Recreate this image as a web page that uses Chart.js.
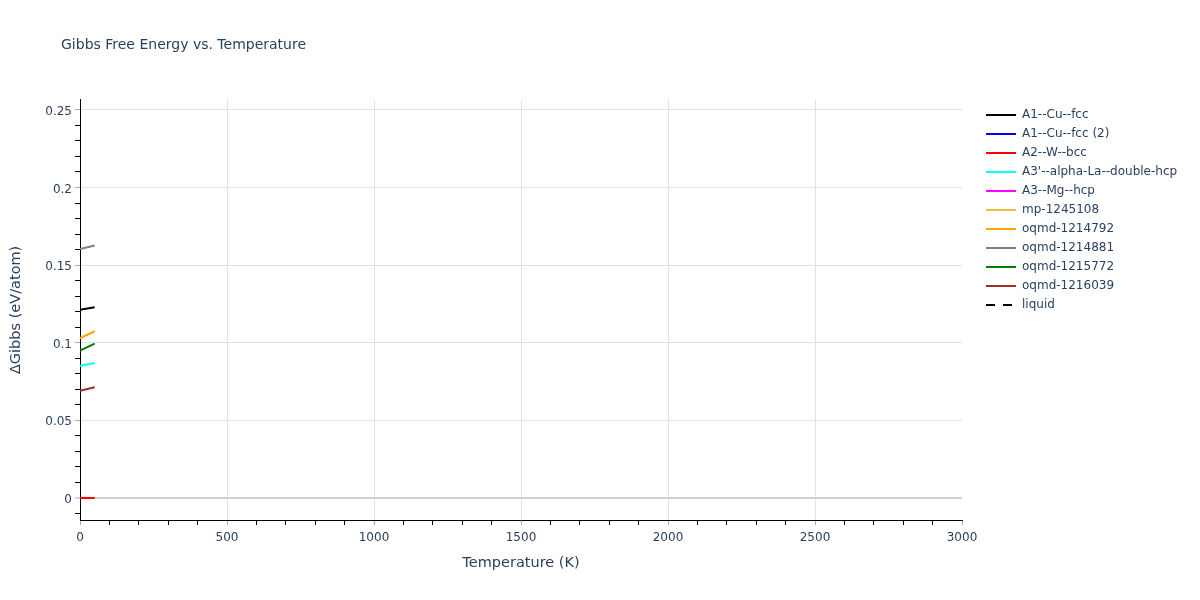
<!DOCTYPE html>
<html lang="en">
<head>
    <meta charset="UTF-8">
    <title>Gibbs Free Energy vs. Temperature</title>
    <script src="https://cdn.jsdelivr.net/npm/chart.js"></script>
    <style>
        body { margin: 0; background: #fff; }
        #wrap { width: 1200px; height: 600px; }
    </style>
</head>
<body>
<div id="wrap">
    <canvas id="gibbs"></canvas>
</div>

<script>
    // temperatures (K) at which each phase was sampled
    const temps = [0, 50];

    const phaseNames = [
        'A1--Cu--fcc', 'A1--Cu--fcc (2)', 'A2--W--bcc', "A3'--alpha-La--double-hcp",
        'A3--Mg--hcp', 'mp-1245108', 'oqmd-1214792', 'oqmd-1214881',
        'oqmd-1215772', 'oqmd-1216039', 'liquid'
    ];
    const phaseColors = [
        '#000000', '#0000ff', '#ff0000', '#00ffff',
        '#ff00ff', '#ecc033', '#ffa500', '#808080',
        '#008000', '#a52a2a', '#000000'
    ];

    // ΔGibbs (eV/atom) at temps[]
    const cuFcc = [0.1213, 0.1229];
    const cuFcc2 = [];
    const wBcc = [0, 0];
    const laDhcp = [0.0852, 0.0870];
    const mgHcp = [];
    const mp1245108 = [];
    const oqmd1214792 = [0.1029, 0.1074];
    const oqmd1214881 = [0.1604, 0.1626];
    const oqmd1215772 = [0.0949, 0.0994];
    const oqmd1216039 = [0.0691, 0.0713];
    const liquid = [];

    const series = [cuFcc, cuFcc2, wBcc, laDhcp, mgHcp, mp1245108,
        oqmd1214792, oqmd1214881, oqmd1215772, oqmd1216039, liquid];

    const textColor = '#2a3f5f';
    const font = '"DejaVu Sans", Verdana, sans-serif';

    const isMajor = (v, step) => Math.abs(v / step - Math.round(v / step)) < 1e-6;

    const datasets = phaseNames.map((name, i) => ({
        label: name,
        data: series[i].map((g, k) => ({x: temps[k], y: g})),
        borderColor: phaseColors[i],
        backgroundColor: phaseColors[i],
        borderWidth: 2,
        borderDash: name === 'liquid' ? [9, 8] : [],
        pointRadius: 0,
        fill: false,
        tension: 0
    }));

    // dashed legend glyph for the liquid entry
    const dashGlyph = document.createElement('canvas');
    dashGlyph.width = 30;
    dashGlyph.height = 4;
    (function () {
        const g = dashGlyph.getContext('2d');
        g.strokeStyle = '#000';
        g.lineWidth = 2;
        g.setLineDash([9, 8]);
        g.beginPath();
        g.moveTo(0, 2);
        g.lineTo(30, 2);
        g.stroke();
    })();

    // nudge title and legend to where they sit in the original figure
    const placeBlocks = {
        id: 'placeBlocks',
        beforeInit(chart) {
            const fit = chart.legend.fit;
            chart.legend.fit = function () {
                fit.call(this);
                this.width = 238;
            };
        },
        afterLayout(chart) {
            chart.titleBlock.left = 61;
            chart.legend.left += 17;
            chart.legend.top += 102;
            chart.legend.bottom += 102;
        }
    };

    new Chart(document.getElementById('gibbs'), {
        type: 'line',
        data: {datasets: datasets},
        plugins: [placeBlocks],
        options: {
            responsive: true,
            maintainAspectRatio: false,
            animation: false,
            layout: {padding: 0},
            plugins: {
                title: {
                    display: true,
                    text: 'Gibbs Free Energy vs. Temperature',
                    align: 'start',
                    color: textColor,
                    font: {family: font, size: 14, weight: 'normal'},
                    padding: {top: 37, bottom: 46}
                },
                legend: {
                    position: 'right',
                    align: 'start',
                    labels: {
                        usePointStyle: true,
                        pointStyle: 'line',
                        pointStyleWidth: 30,
                        padding: 7,
                        color: textColor,
                        font: {family: font, size: 12},
                        generateLabels(chart) {
                            const items = Chart.defaults.plugins.legend.labels.generateLabels(chart);
                            items.forEach(it => {
                                if (it.text === 'liquid') it.pointStyle = dashGlyph;
                            });
                            return items;
                        }
                    }
                },
                tooltip: {enabled: false}
            },
            scales: {
                x: {
                    type: 'linear',
                    min: 0,
                    max: 3000,
                    afterFit: s => { s.height = 80; },
                    border: {color: '#000', width: 1},
                    grid: {
                        color: c => (c.tick.value > 0 && c.tick.value < 3000 && isMajor(c.tick.value, 500)) ? '#e2e2e2' : 'rgba(0,0,0,0)',
                        tickColor: c => isMajor(c.tick.value, 500) ? '#aaa' : '#000',
                        tickLength: 5,
                        tickWidth: 1
                    },
                    ticks: {
                        stepSize: 100,
                        autoSkip: false,
                        maxRotation: 0,
                        padding: 6,
                        includeBounds: false,
                        color: textColor,
                        font: {family: font, size: 12},
                        callback: v => isMajor(v, 500) ? String(Math.round(v)) : ''
                    },
                    title: {
                        display: true,
                        text: 'Temperature (K)',
                        color: textColor,
                        font: {family: font, size: 14.5},
                        padding: {top: 0, bottom: 28}
                    }
                },
                y: {
                    type: 'linear',
                    min: -0.0142,
                    max: 0.2565,
                    afterFit: s => { s.width = 80; },
                    border: {color: '#000', width: 1},
                    grid: {
                        color: c => isMajor(c.tick.value, 0.05) ? (Math.abs(c.tick.value) < 1e-9 ? '#cfcfcf' : '#e2e2e2') : 'rgba(0,0,0,0)',
                        lineWidth: c => Math.abs(c.tick.value) < 1e-9 ? 2 : 1,
                        tickColor: c => isMajor(c.tick.value, 0.05) ? '#aaa' : '#000',
                        tickLength: 5,
                        tickWidth: 1
                    },
                    ticks: {
                        stepSize: 0.01,
                        autoSkip: false,
                        padding: 3,
                        labelOffset: 2,
                        includeBounds: false,
                        color: textColor,
                        font: {family: font, size: 12},
                        callback: v => isMajor(v, 0.05) ? String(Number(v.toFixed(2))) : ''
                    },
                    title: {
                        display: true,
                        text: 'ΔGibbs (eV/atom)',
                        color: textColor,
                        font: {family: font, size: 14.5},
                        padding: {top: 8, bottom: 0}
                    }
                }
            }
        }
    });
</script>
</body>
</html>
